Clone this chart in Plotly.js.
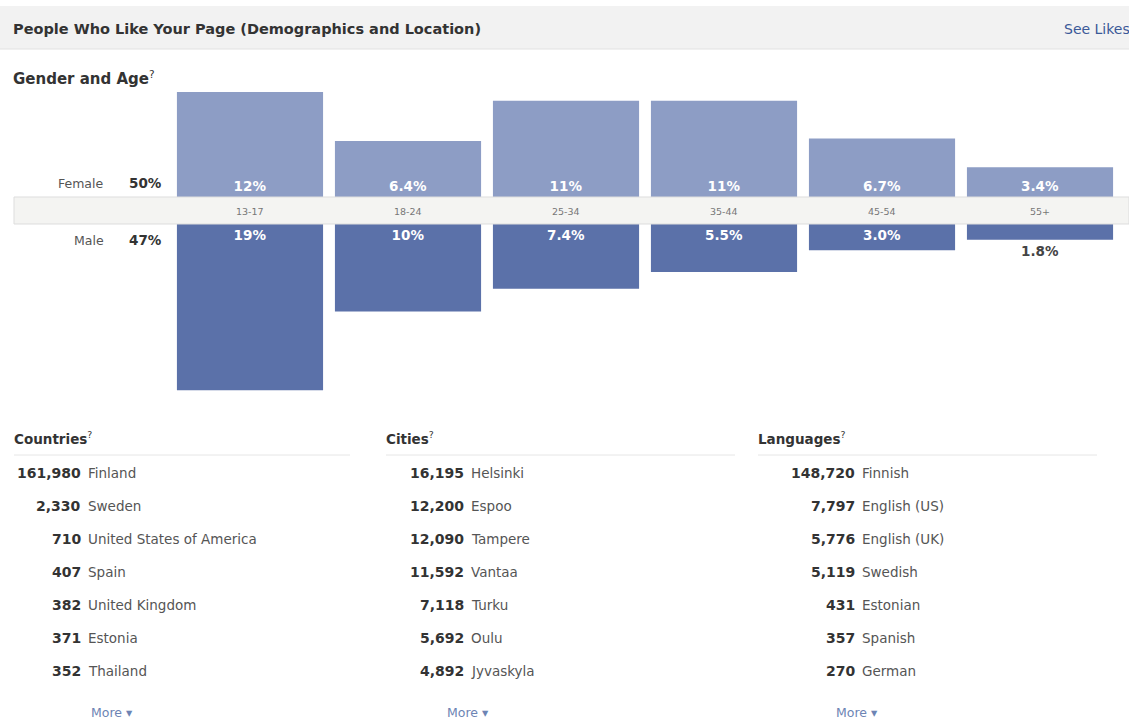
<!DOCTYPE html>
<html><head><meta charset="utf-8">
<script src="https://cdn.plot.ly/plotly-3.0.1.min.js"></script>
<style>html,body{margin:0;padding:0;background:#fff}#chart{width:1129px;height:719px}</style>
</head><body><div id="chart"></div>
<script>
// ---- data ----
const ageGroups = ['13-17','18-24','25-34','35-44','45-54','55+'];
const femaleShare = [12, 6.4, 11, 11, 6.7, 3.4];
const maleShare = [19, 10, 7.4, 5.5, 3.0, 1.8];
const femaleTotal = '50%';
const maleTotal = '47%';

const countryNames = ['Finland','Sweden','United States of America','Spain','United Kingdom','Estonia','Thailand'];
const countryFans = [161980, 2330, 710, 407, 382, 371, 352];
const cityNames = ['Helsinki','Espoo','Tampere','Vantaa','Turku','Oulu','Jyvaskyla'];
const cityFans = [16195, 12200, 12090, 11592, 7118, 5692, 4892];
const languageNames = ['Finnish','English (US)','English (UK)','Swedish','Estonian','Spanish','German'];
const languageFans = [148720, 7797, 5776, 5119, 431, 357, 270];

// ---- helpers ----
const W = 1129, H = 719;
const px = x => x / W;
const py = y => 1 - y / H;
const FONT = 'DejaVu Sans, Verdana, sans-serif';
const fmtPct = v => (v >= 10 ? Math.round(v) : v.toFixed(1)) + '%';
const fmtNum = n => n.toLocaleString('en-US');

const pxPerPct = 8.75;
const femaleTop = 80, femaleBase = 197;
const maleBase = 224, maleBottom = 400;

const femaleTrace = {
  type: 'bar', x: ageGroups, y: femaleShare, xaxis: 'x', yaxis: 'y',
  marker: {color: '#8d9dc5', line: {width: 0}},
  text: femaleShare.map(fmtPct), textposition: 'inside', insidetextanchor: 'start',
  textangle: 0, constraintext: 'none',
  insidetextfont: {family: FONT, size: 13.5, color: '#ffffff', weight: 'bold'},
  hoverinfo: 'skip', cliponaxis: false
};
const maleTrace = {
  type: 'bar', x: ageGroups, y: maleShare, xaxis: 'x', yaxis: 'y2',
  marker: {color: '#5b71a9', line: {width: 0}},
  text: maleShare.map(fmtPct),
  textposition: maleShare.map(v => v < 2.5 ? 'outside' : 'inside'),
  insidetextanchor: 'start', textangle: 0, constraintext: 'none',
  insidetextfont: {family: FONT, size: 13.5, color: '#ffffff', weight: 'bold'},
  outsidetextfont: {family: FONT, size: 13.5, color: '#444444', weight: 'bold'},
  hoverinfo: 'skip', cliponaxis: false
};

const annotations = [];
const shapes = [];
function txt(x, y, text, opts) {
  annotations.push(Object.assign({
    xref: 'paper', yref: 'paper', x: px(x), y: py(y), text: text, showarrow: false,
    xanchor: 'left', yanchor: 'middle',
    font: {family: FONT, size: 12, color: '#333333'}
  }, opts || {}));
}

// header
shapes.push({type: 'rect', xref: 'paper', yref: 'paper', x0: 0, x1: 1, y0: py(49), y1: py(6),
  fillcolor: '#f2f2f2', line: {width: 0}, layer: 'below'});
shapes.push({type: 'line', xref: 'paper', yref: 'paper', x0: 0, x1: 1, y0: py(49), y1: py(49),
  line: {color: '#e2e2e2', width: 1}});
txt(11, 29, '<b>People Who Like Your Page (Demographics and Location)</b>', {font: {family: FONT, size: 14.5, color: '#333333'}});
txt(1062, 29, 'See Likes', {font: {family: FONT, size: 14, color: '#3b5998'}});

// gender and age
txt(11, 78, '<b>Gender and Age</b><sup>?</sup>', {font: {family: FONT, size: 15, color: '#333333'}});
txt(106, 183, 'Female', {xanchor: 'right', font: {family: FONT, size: 12.5, color: '#555555'}});
txt(164, 183, '<b>' + femaleTotal + '</b>', {xanchor: 'right', font: {family: FONT, size: 13.5, color: '#333333'}});
txt(106, 240, 'Male', {xanchor: 'right', font: {family: FONT, size: 12.5, color: '#555555'}});
txt(164, 240, '<b>' + maleTotal + '</b>', {xanchor: 'right', font: {family: FONT, size: 13.5, color: '#333333'}});

// age band
shapes.push({type: 'rect', xref: 'paper', yref: 'paper', x0: px(14), x1: 1, y0: py(224), y1: py(197),
  fillcolor: '#f4f4f2', line: {color: '#dddddd', width: 1}, layer: 'above'});
ageGroups.forEach(a => annotations.push({
  xref: 'x', yref: 'paper', x: a, y: py(211), text: a, showarrow: false,
  xanchor: 'center', yanchor: 'middle', font: {family: FONT, size: 9.5, color: '#777777'}
}));

// tables
const columns = [
  {title: 'Countries', names: countryNames, fans: countryFans, left: 14, numRight: 82, lineEnd: 350, more: 112},
  {title: 'Cities', names: cityNames, fans: cityFans, left: 386, numRight: 465, lineEnd: 735, more: 468},
  {title: 'Languages', names: languageNames, fans: languageFans, left: 758, numRight: 856, lineEnd: 1097, more: 857}
];
columns.forEach(c => {
  txt(c.left - 2, 438, '<b>' + c.title + '</b><sup>?</sup>', {font: {family: FONT, size: 13.5, color: '#333333'}});
  shapes.push({type: 'line', xref: 'paper', yref: 'paper', x0: px(c.left), x1: px(c.lineEnd), y0: py(455), y1: py(455),
    line: {color: '#e6e6e6', width: 1}});
  c.names.forEach((n, i) => {
    const y = 473 + i * 33;
    txt(c.numRight + 1, y, '<b>' + fmtNum(c.fans[i]) + '</b>', {xanchor: 'right', font: {family: FONT, size: 14, color: '#333333'}});
    txt(c.numRight + 4, y, n, {font: {family: FONT, size: 13.5, color: '#555555'}});
  });
  txt(c.more, 712, 'More \u25BE', {xanchor: 'center', font: {family: FONT, size: 12.5, color: '#6d84b4'}});
});

const layout = {
  width: W, height: H, margin: {l: 0, r: 0, t: 0, b: 0},
  paper_bgcolor: '#ffffff', plot_bgcolor: 'rgba(0,0,0,0)',
  showlegend: false, bargap: 0.075,
  font: {family: FONT},
  xaxis: {domain: [px(171), px(1119)], type: 'category', categoryarray: ageGroups,
    showticklabels: false, showgrid: false, zeroline: false, showline: false, ticks: '', fixedrange: true},
  yaxis: {domain: [py(femaleBase), py(femaleTop)], range: [0, (femaleBase - femaleTop) / pxPerPct],
    showticklabels: false, showgrid: false, zeroline: false, showline: false, ticks: '', fixedrange: true},
  yaxis2: {domain: [py(maleBottom), py(maleBase)], range: [(maleBottom - maleBase) / pxPerPct, 0], anchor: 'x',
    showticklabels: false, showgrid: false, zeroline: false, showline: false, ticks: '', fixedrange: true},
  shapes: shapes, annotations: annotations
};

Plotly.newPlot('chart', [femaleTrace, maleTrace], layout, {displayModeBar: false, staticPlot: true});
</script></body></html>
